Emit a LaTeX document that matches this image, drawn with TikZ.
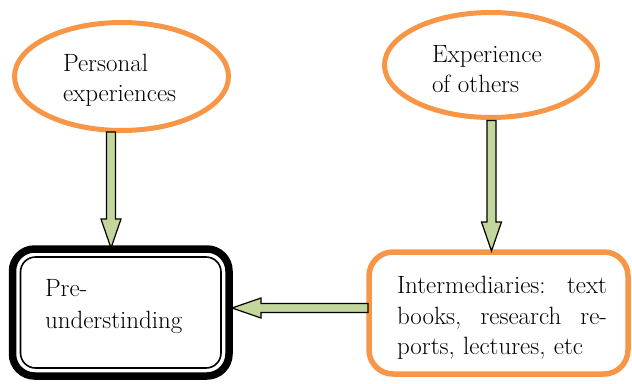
\documentclass[tikz,border=0pt]{standalone}
\usepackage{fontspec}
\usetikzlibrary{shapes.geometric,calc}
\definecolor{orng}{HTML}{F79646}
\definecolor{lgreen}{HTML}{C3D69B}
\newcommand\bodyfont{\fontsize{25}{30}\selectfont}
\newcommand\blockarrow[2]{%
  \coordinate (ba-h) at ($(#2)!29pt!(#1)$);
  \draw[blk] ($(#1)!4.5pt!90:(#2)$) -- ($(ba-h)!4.5pt!90:(#2)$)
    -- ($(ba-h)!10pt!90:(#2)$) -- (#2) -- ($(ba-h)!10pt!-90:(#2)$)
    -- ($(ba-h)!4.5pt!-90:(#2)$) -- ($(#1)!4.5pt!-90:(#2)$) -- cycle;}
\begin{document}
\begin{tikzpicture}[x=1pt,y=-1pt,
  bubble/.style={ellipse, draw=orng, line width=5pt, fill=white, inner sep=0pt, outer sep=0pt},
  txt/.style={inner sep=0pt, outer sep=0pt, align=left, font=\bodyfont, anchor=west},
  outerbox/.style={draw=black, line width=7.5pt, rounded corners=22pt, fill=white, outer sep=0pt},
  innerbox/.style={draw=black, line width=1.6pt, rounded corners=15pt},
  orangebox/.style={draw=orng, line width=5.5pt, rounded corners=24pt, fill=white, outer sep=0pt},
  blk/.style={fill=lgreen, draw=black, line width=1.2pt, line join=miter}]
\useasboundingbox (0,0) rectangle (632,383);
% ellipses
\node[bubble, minimum width=214pt, minimum height=108pt] (e1) at (121.5,76.5) {};
\node[txt] (t1) at (63,80.75) {Personal\\experiences};
\node[bubble, minimum width=213pt, minimum height=105pt] (e2) at (491,65) {};
\node[txt] (t2) at (432,69.45) {Experience\\of others};
% pre-understanding box
\node[outerbox, minimum width=216.5pt, minimum height=127pt] (pre) at (120.75,312.5) {};
\draw[innerbox] ($(pre.north west)+(8,8)$) rectangle ($(pre.south east)+(-8,-8)$);
\node[txt, font=\fontsize{25}{32}\selectfont] (t3) at (45,306.9) {Pre-\\understinding};
% intermediaries box
\node[orangebox, minimum width=259pt, minimum height=122pt] (int) at (498.5,313) {};
\node[txt, font=\fontsize{25}{30.5}\selectfont, text width=210pt] (t4) at (397,318.25)
  {Intermediaries:\hfill text\\books,\hfill research\hfill re-\\ports, lectures, etc};
% arrows
\coordinate (a1s) at ($(e1.south)+(-10.5,1.5)$);
\coordinate (a1e) at ($(pre.north)+(-9.75,-1)$);
\coordinate (a2s) at ($(e2.south)+(0.5,3)$);
\coordinate (a2e) at ($(int.north)+(-7,-1)$);
\coordinate (a3s) at ($(int.west)+(-1,-5)$);
\coordinate (a3e) at ($(pre.east)+(3,-4.5)$);
\blockarrow{a1s}{a1e}
\blockarrow{a2s}{a2e}
\blockarrow{a3s}{a3e}
\end{tikzpicture}
\end{document}
